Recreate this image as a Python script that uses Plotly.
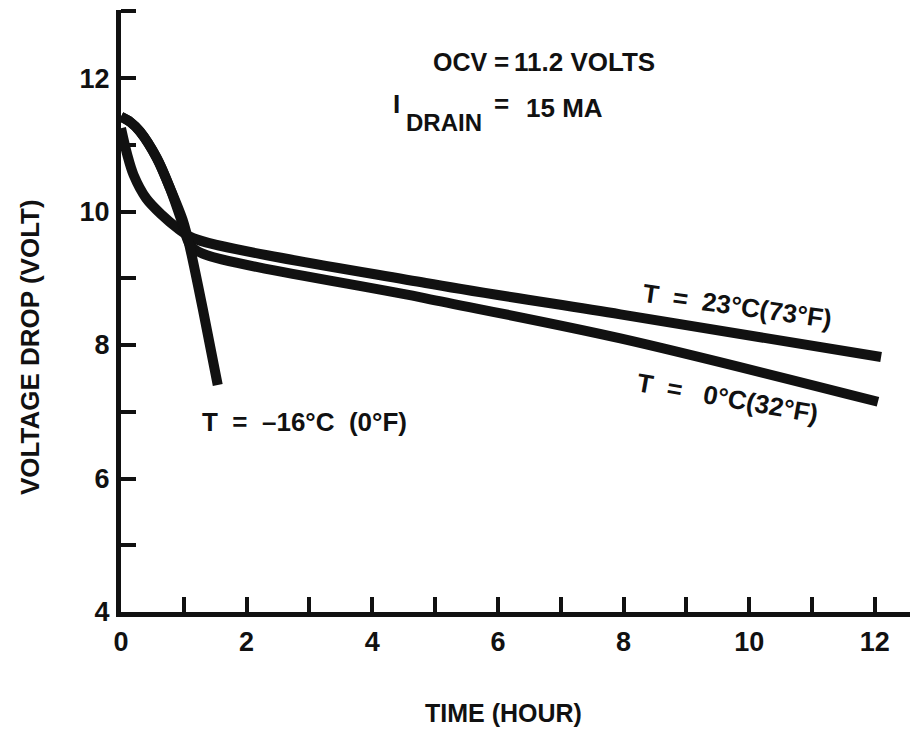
import plotly.graph_objects as go

# ---- data ----
hours_23c = [0.0, 0.1, 0.2, 0.4, 0.65, 0.9, 1.15, 4.85, 7.95, 12.1]
volts_23c = [11.25, 10.85, 10.55, 10.2, 9.95, 9.75, 9.6, 8.93, 8.46, 7.82]

hours_0c = [0.0, 0.15, 0.3, 0.57, 0.78, 0.95, 1.1, 1.3, 4.85, 7.95, 12.05]
volts_0c = [11.42, 11.34, 11.2, 10.8, 10.35, 9.9, 9.5, 9.37, 8.70, 8.10, 7.15]

hours_m16c = [0.0, 0.15, 0.3, 0.57, 0.78, 0.99, 1.1, 1.3, 1.54]
volts_m16c = [11.42, 11.34, 11.2, 10.8, 10.35, 9.85, 9.45, 8.55, 7.4]

x_ticks = [0, 2, 4, 6, 8, 10, 12]
y_ticks = [4, 6, 8, 10, 12]

FONT = "Liberation Sans, Arial, sans-serif"
INK = "#111111"

W, H = 914, 732
L, R, T, B = 121, 4, 10, 120
PW, PH = W - L - R, H - T - B


def px(xp, yp):
    return (xp - L) / PW, (H - B - yp) / PH


fig = go.Figure()
for xs, ys in [(hours_23c, volts_23c), (hours_0c, volts_0c), (hours_m16c, volts_m16c)]:
    fig.add_trace(go.Scatter(x=xs, y=ys, mode="lines",
                             line=dict(color=INK, width=10, shape="spline", smoothing=0.9),
                             cliponaxis=False, showlegend=False, hoverinfo="skip"))

annots = []


def note(text, xp, yp, size=26, xanchor="left", angle=0):
    x, y = px(xp, yp)
    annots.append(dict(text=text, x=x, y=y, xref="paper", yref="paper",
                       xanchor=xanchor, yanchor="middle", showarrow=False,
                       textangle=angle,
                       font=dict(family=FONT, size=size, color=INK)))


note("<b>OCV</b>", 431, 62, size=25)
note("<b>=</b>", 501, 62, xanchor="center")
note("<b>11.2 VOLTS</b>", 512, 62)
note("<b>I</b>", 391, 104)
note("<b>DRAIN</b>", 404, 122, size=24)
note("<b>=</b>", 501, 104, xanchor="center")
note("<b>15 MA</b>", 524, 108)
note("<b>T  =  23°C(73°F)</b>", 737, 306, xanchor="center", angle=8)
note("<b>T  =   0°C(32°F)</b>", 727, 398, xanchor="center", angle=10)
note("<b>T  =  –16°C  (0°F)</b>", 200, 422)
note("<b>TIME (HOUR)</b>", 503, 713, size=25, xanchor="center")
note("<b>VOLTAGE DROP (VOLT)</b>", 30, 347, xanchor="center", angle=-90)

fig.update_layout(
    width=W, height=H,
    margin=dict(l=L, r=R, t=T, b=B),
    paper_bgcolor="white", plot_bgcolor="white",
    annotations=annots,
    xaxis=dict(range=[0, 12.56], tickvals=x_ticks, ticktext=[f"<b>{v}</b>" for v in x_ticks],
               ticks="inside", ticklen=15, tickwidth=4, tickcolor=INK,
               showline=True, linewidth=5, linecolor=INK, showgrid=False, zeroline=False,
               minor=dict(dtick=1, tick0=0, ticks="inside", ticklen=15, tickwidth=4, tickcolor=INK),
               tickfont=dict(family=FONT, size=27, color=INK), ticklabelstandoff=2),
    yaxis=dict(range=[4, 13.02], tickvals=y_ticks, ticktext=[f"<b>{v}</b>" for v in y_ticks],
               ticks="inside", ticklen=15, tickwidth=4, tickcolor=INK,
               showline=True, linewidth=5, linecolor=INK, showgrid=False, zeroline=False,
               minor=dict(dtick=1, tick0=4, ticks="inside", ticklen=15, tickwidth=4, tickcolor=INK),
               tickfont=dict(family=FONT, size=27, color=INK), ticklabelstandoff=1),
)

fig.write_html("out.html")
